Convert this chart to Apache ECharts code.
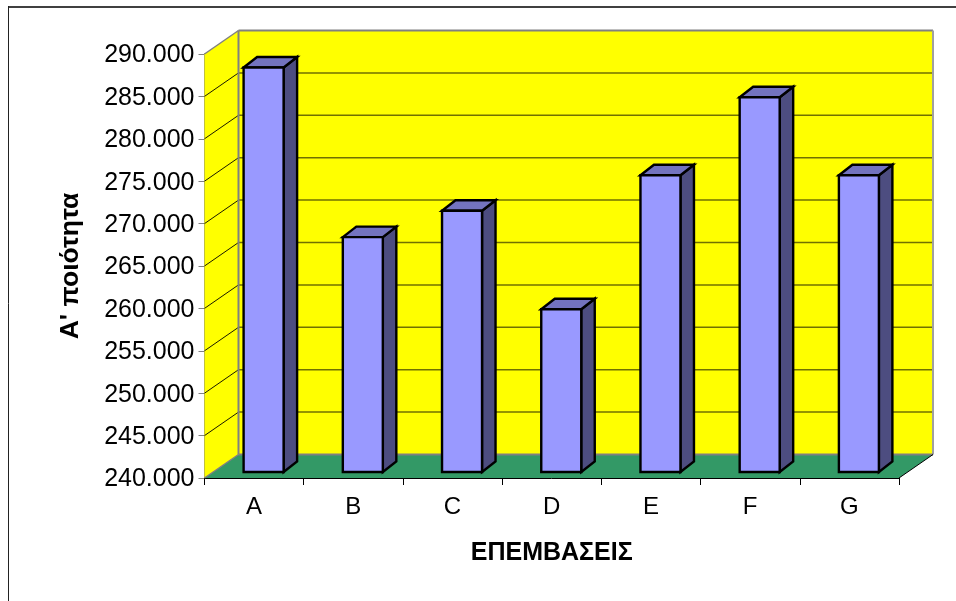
<!DOCTYPE html>
<html>
<head>
<meta charset="utf-8">
<style>html,body{margin:0;padding:0;background:#fff}#chart{width:956px;height:601px}</style>
<script src="https://cdn.jsdelivr.net/npm/echarts@6/dist/echarts.min.js"></script>
</head>
<body>
<div id="chart"></div>
<script>
// Treatments and first-grade yield for each one
const categories = ['A', 'B', 'C', 'D', 'E', 'F', 'G'];
const values = [287700, 267700, 270800, 259200, 275000, 284200, 275000];
const axisMin = 240000;
const axisMax = 290000;
const axisStep = 5000;
const xTitle = 'ΕΠΕΜΒΑΣΕΙΣ';
const yTitle = "Α' ποιότητα";

// Oblique projection offsets of the pseudo-3D box
const wallDx = 34, wallDy = -23.5;
const barDx = 13.5, barDy = -10.5;
const barLift = 6, barShift = 9.5, barWidth = 40;
const fontFamily = '"Liberation Sans", Arial, sans-serif';

const chart = echarts.init(document.getElementById('chart'), null, { renderer: 'canvas' });

function poly(points, fill, stroke, lineWidth) {
  return {
    type: 'polygon',
    shape: { points },
    style: { fill: fill, stroke: stroke || null, lineWidth: lineWidth || 0 }
  };
}
function seg(x1, y1, x2, y2, stroke, lineWidth) {
  return {
    type: 'line',
    shape: { x1, y1, x2, y2 },
    style: { stroke, lineWidth }
  };
}

// Back wall, side wall, floor and their gridlines, from the axis scale
function renderBox(params, api) {
  const left = params.coordSys.x;
  const right = left + params.coordSys.width;
  const yTop = api.coord([0, axisMax])[1];
  const yBase = api.coord([0, axisMin])[1];
  const children = [
    poly([[left + wallDx, yTop + wallDy], [right + wallDx, yTop + wallDy], [right + wallDx, yBase + wallDy], [left + wallDx, yBase + wallDy]], '#ffff00'),
    poly([[left, yTop], [left + wallDx, yTop + wallDy], [left + wallDx, yBase + wallDy], [left, yBase]], '#ffff00')
  ];
  for (let v = axisMin + axisStep; v < axisMax; v += axisStep) {
    const y = api.coord([0, v])[1];
    children.push(seg(left, y, left + wallDx, y + wallDy, '#1a1a00', 1));
    children.push(seg(left + wallDx, y + wallDy, right + wallDx, y + wallDy, '#707000', 1.5));
  }
  children.push(poly([[left, yBase], [right, yBase], [right + wallDx, yBase + wallDy], [left + wallDx, yBase + wallDy]], '#339966'));
  children.push(seg(left, yTop, left + wallDx, yTop + wallDy, '#808080', 1.5));
  children.push(seg(left + wallDx, yTop + wallDy, right + wallDx, yTop + wallDy, '#808080', 2));
  children.push(seg(left + wallDx, yTop + wallDy, left + wallDx, yBase + wallDy, '#808080', 2));
  children.push(seg(right + wallDx, yTop + wallDy, right + wallDx, yBase + wallDy, '#a0a0a0', 2));
  children.push(seg(left + wallDx, yBase + wallDy, right + wallDx, yBase + wallDy, '#808080', 2));
  children.push(seg(left, yBase, left + wallDx, yBase + wallDy, '#808080', 1.5));
  children.push(seg(right, yBase, right + wallDx, yBase + wallDy, '#000000', 1));
  return { type: 'group', children };
}

// One prism per category
function renderBar(params, api) {
  const c = api.coord([api.value(0), api.value(1)]);
  const base = api.coord([api.value(0), axisMin])[1] - barLift;
  const top = c[1] - barLift;
  const x0 = c[0] + barShift - barWidth / 2;
  const x1 = x0 + barWidth;
  const line = { stroke: '#000000', lineWidth: 2.4, lineJoin: 'miter' };
  const build = (points, fill) => ({
    type: 'polygon',
    shape: { points },
    style: Object.assign({ fill }, line)
  });
  return {
    type: 'group',
    children: [
      build([[x1, top], [x1 + barDx, top + barDy], [x1 + barDx, base + barDy], [x1, base]], '#4d4d80'),
      build([[x0, top], [x0 + barDx, top + barDy], [x1 + barDx, top + barDy], [x1, top]], '#7373bf'),
      build([[x0, top], [x1, top], [x1, base], [x0, base]], '#9999ff')
    ]
  };
}

chart.setOption({
  animation: false,
  backgroundColor: '#ffffff',
  grid: { left: 204.5, right: 57, top: 54, bottom: 123, containLabel: false },
  graphic: [
    { type: 'line', silent: true, shape: { x1: 8, y1: 7, x2: 956, y2: 7 }, style: { stroke: '#404040', lineWidth: 2 } },
    { type: 'line', silent: true, shape: { x1: 8.5, y1: 6, x2: 8.5, y2: 601 }, style: { stroke: '#222222', lineWidth: 1 } }
  ],
  xAxis: {
    type: 'category',
    data: categories,
    boundaryGap: true,
    name: xTitle,
    nameLocation: 'middle',
    nameGap: 63,
    nameTextStyle: { fontFamily, fontSize: 25, fontWeight: 'bold', color: '#000' },
    axisLine: { lineStyle: { color: '#000', width: 1 } },
    axisTick: { show: true, alignWithLabel: false, length: 7, lineStyle: { color: '#000', width: 1 } },
    axisLabel: { fontFamily, fontSize: 24, color: '#000', margin: 17.5 },
    splitLine: { show: false }
  },
  yAxis: {
    type: 'value',
    min: axisMin,
    max: axisMax,
    interval: axisStep,
    name: yTitle,
    nameLocation: 'middle',
    nameGap: 120,
    nameRotate: 90,
    nameTextStyle: { fontFamily, fontSize: 26.5, fontWeight: 'bold', color: '#000' },
    axisLine: { show: true, lineStyle: { color: '#808080', width: 2 } },
    axisTick: { show: true, length: 6, lineStyle: { color: '#808080', width: 1 } },
    axisLabel: {
      fontFamily, fontSize: 25, color: '#000', margin: 10, verticalAlign: 'top', lineHeight: 3,
      formatter: v => String(v).replace(/(\d)(\d{3})$/, '$1.$2')
    },
    splitLine: { show: false }
  },
  series: [
    { type: 'custom', name: 'box', data: [[0, axisMin]], renderItem: renderBox, silent: true, z: 1, clip: false, encode: { x: 0, y: 1 } },
    { type: 'custom', name: yTitle, data: categories.map((c, i) => [i, values[i]]), renderItem: renderBar, silent: true, z: 2, clip: false, encode: { x: 0, y: 1 } }
  ]
});
</script>
</body>
</html>
